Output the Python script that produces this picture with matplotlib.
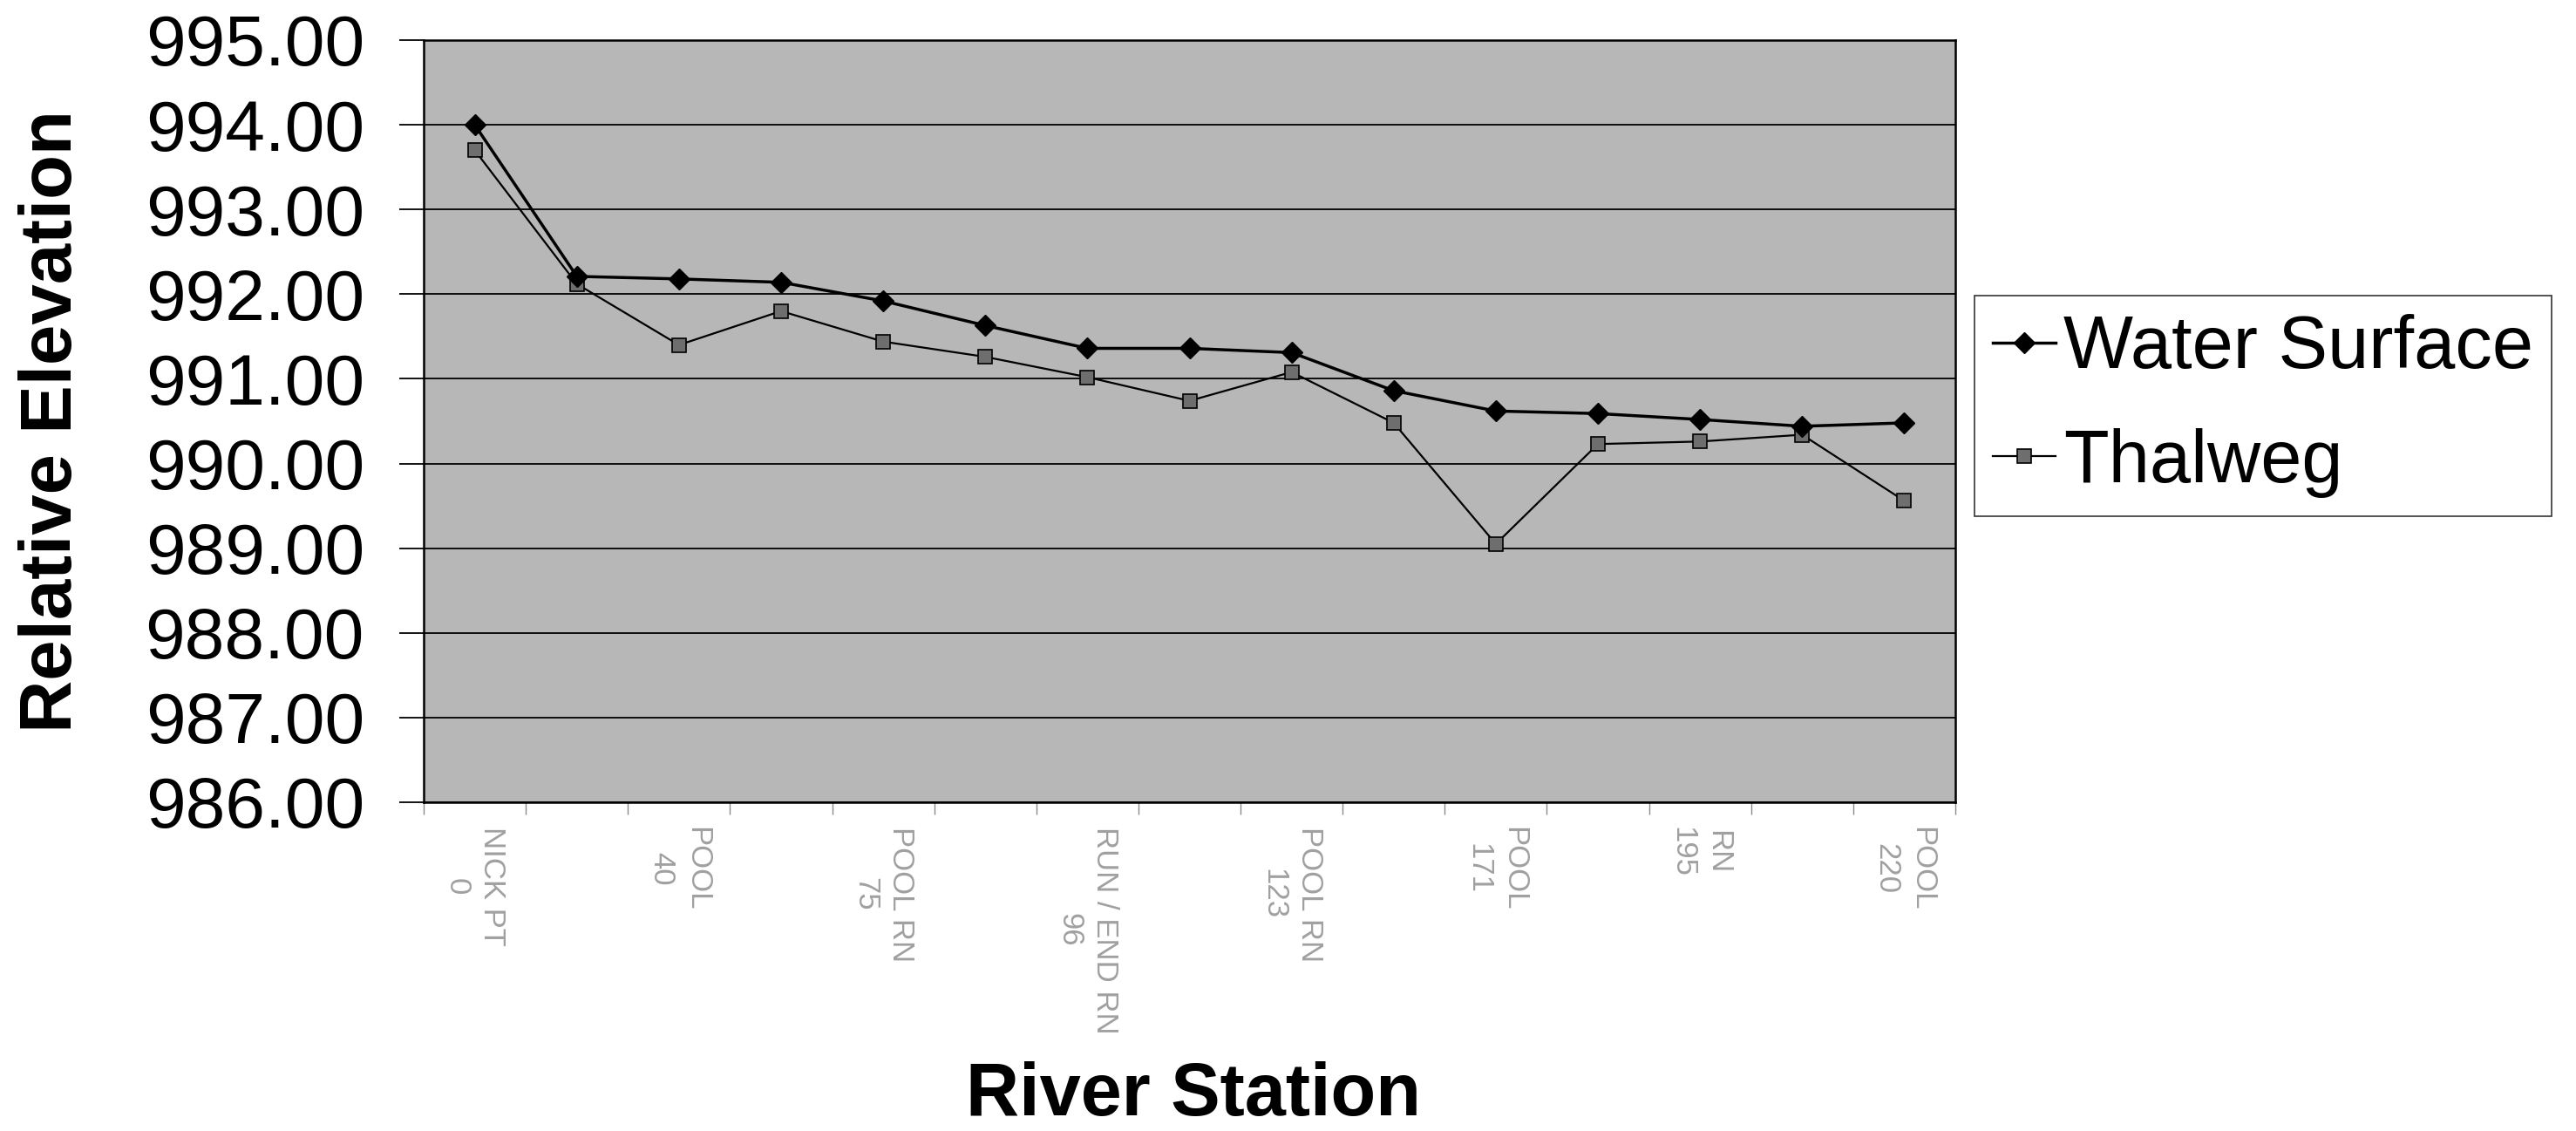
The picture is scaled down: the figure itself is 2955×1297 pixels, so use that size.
import matplotlib
matplotlib.use('Agg')
import matplotlib.pyplot as plt

plt.rcParams['font.family'] = ['Liberation Sans', 'DejaVu Sans']

# longitudinal profile, relative elevations at each surveyed station
stations = list(range(15))
water_surface = [994.00, 992.21, 992.18, 992.14, 991.92, 991.63, 991.36, 991.36,
                 991.31, 990.86, 990.62, 990.59, 990.52, 990.44, 990.48]
thalweg = [993.70, 992.12, 991.40, 991.80, 991.44, 991.26, 991.02, 990.74,
           991.08, 990.48, 989.05, 990.23, 990.26, 990.34, 989.56]

# only every second station gets a label on the axis
station_labels = ['NICK PT\n0', 'POOL\n40', 'POOL RN\n75', 'RUN / END RN\n96',
                  'POOL RN\n123', 'POOL\n171', 'RN\n195', 'POOL\n220']
elev_ticks = [986, 987, 988, 989, 990, 991, 992, 993, 994, 995]

W, H = 2955, 1297
fig = plt.figure(figsize=(W / 100, H / 100), dpi=100)
ax = fig.add_axes([486 / W, 1 - 920 / H, (2243 - 486) / W, (920 - 46) / H])

ax.plot(stations, water_surface, color='black', lw=2.5, marker='D', ms=12,
        mfc='black', mec='black', label='Water Surface', zorder=4)
ax.plot(stations, thalweg, color='black', lw=1.6, marker='s', ms=11,
        mfc='#6e6e6e', mec='black', mew=1.2, label='Thalweg', zorder=3)

ax.set_facecolor('#b7b7b7')
ax.set_xlim(-0.5, 14.5)
ax.set_ylim(986, 995)

ax.set_yticks(elev_ticks)
ax.set_yticklabels(['%.2f' % v for v in elev_ticks])
ax.yaxis.grid(True, color='black', lw=1.3)
ax.set_axisbelow(True)
ax.tick_params(axis='y', length=20, width=1.3, pad=29, labelsize=59)

ax.set_xticks(stations[::2])
ax.set_xticklabels(station_labels, rotation=-90, fontsize=25, color='#a0a0a0',
                   family=['Liberation Sans Narrow', 'Liberation Sans'], linespacing=1.3)
for t in ax.get_xticklabels():
    t.set_multialignment('center')
ax.tick_params(axis='x', which='major', length=0, pad=20)
ax.set_xticks([s - 0.5 for s in stations] + [14.5], minor=True)
ax.tick_params(axis='x', which='minor', length=10, width=1, color='#8a8a8a')

for s in ax.spines.values():
    s.set_linewidth(1.8)
    s.set_color('black')

ax.set_ylabel('Relative Elevation', fontsize=60, fontweight='bold', va='center')
ax.yaxis.set_label_coords(-0.2425, 0.5)
fig.text(1369 / W, 1 - 1279 / H, 'River Station', ha='center', va='baseline',
         fontsize=61, fontweight='bold')

leg = fig.legend(loc='upper left', bbox_to_anchor=(2265 / W, 1 - 339 / H), fontsize=61,
                 frameon=True, fancybox=False, edgecolor='#333333', framealpha=1,
                 borderpad=0.25, labelspacing=0.6, handlelength=0.85,
                 handletextpad=0.1, borderaxespad=0)
leg.get_frame().set_linewidth(1.2)

fig.savefig('out.png', dpi=100)
